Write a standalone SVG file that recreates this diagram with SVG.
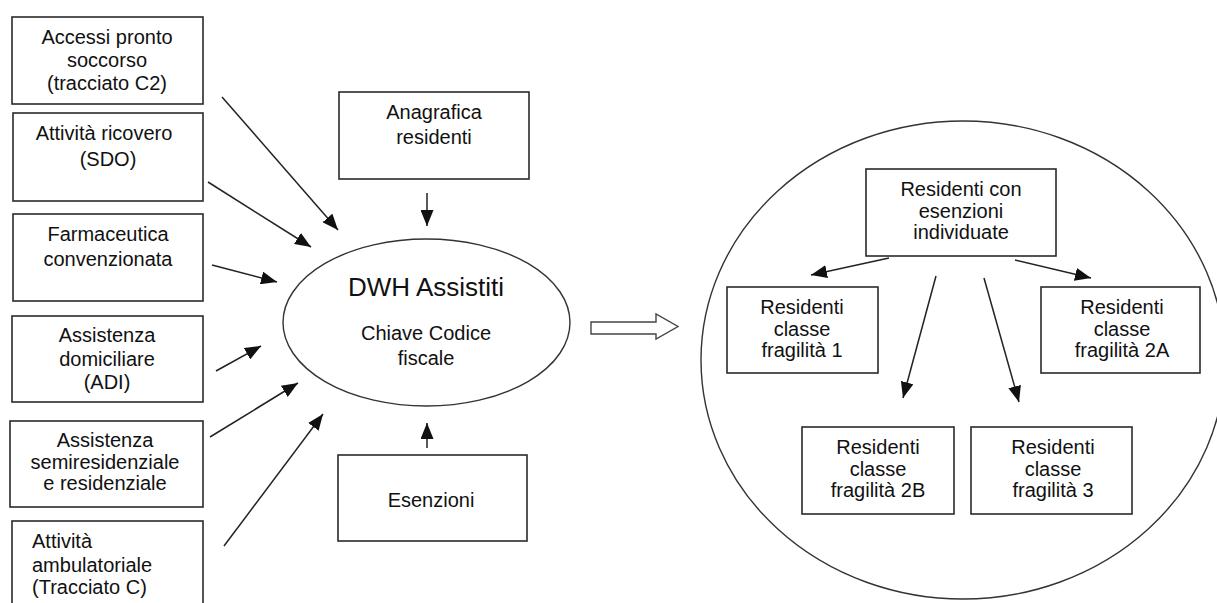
<svg xmlns="http://www.w3.org/2000/svg" width="1217" height="603" viewBox="0 0 1217 603">
<style>
.box{fill:#fff;stroke:#2a2a2a;stroke-width:1.6}
.t{font-family:"Liberation Sans",Arial,sans-serif;font-size:20px;fill:#111;text-anchor:middle}
.tl{text-anchor:start}
.big{font-size:26px}
.ln{stroke:#222;stroke-width:1.5;fill:none;marker-end:url(#ah)}
.ell{fill:#fff;stroke:#333;stroke-width:1.4}
</style>
<defs>
<marker id="ah" markerUnits="userSpaceOnUse" markerWidth="16" markerHeight="13" refX="16" refY="6.5" orient="auto">
<path d="M0,0 L16,6.5 L0,13 z" fill="#111"/>
</marker>
</defs>
<rect width="1217" height="603" fill="#fff"/>

<g id="circle-group">
<ellipse class="ell" cx="963" cy="360" rx="262" ry="239"/>
</g>

<g id="n-accessi">
<rect class="box" x="12" y="17" width="191" height="87"/>
<text class="t" x="107" y="44">Accessi pronto</text>
<text class="t" x="107" y="67">soccorso</text>
<text class="t" x="107" y="90">(tracciato C2)</text>
</g>
<g id="n-ricovero">
<rect class="box" x="13" y="113" width="190" height="88"/>
<text class="t" x="104" y="140">Attività ricovero</text>
<text class="t" x="108" y="166">(SDO)</text>
</g>
<g id="n-farma">
<rect class="box" x="13" y="214" width="190" height="87"/>
<text class="t" x="108" y="241">Farmaceutica</text>
<text class="t" x="108" y="266">convenzionata</text>
</g>
<g id="n-adi">
<rect class="box" x="12" y="316" width="191" height="86"/>
<text class="t" x="107" y="342">Assistenza</text>
<text class="t" x="107" y="366">domiciliare</text>
<text class="t" x="107" y="389">(ADI)</text>
</g>
<g id="n-semi">
<rect class="box" x="10" y="421" width="193" height="86"/>
<text class="t" x="105" y="447">Assistenza</text>
<text class="t" x="105" y="469">semiresidenziale</text>
<text class="t" x="105" y="490">e residenziale</text>
</g>
<g id="n-ambul">
<rect class="box" x="12" y="521" width="191" height="90"/>
<text class="t tl" x="32" y="548">Attività</text>
<text class="t tl" x="32" y="572">ambulatoriale</text>
<text class="t tl" x="32" y="594">(Tracciato C)</text>
</g>
<g id="n-anagrafica">
<rect class="box" x="339" y="92" width="190" height="87"/>
<text class="t" x="434" y="119">Anagrafica</text>
<text class="t" x="434" y="144">residenti</text>
</g>
<g id="n-esenzioni">
<rect class="box" x="338" y="455" width="189" height="86"/>
<text class="t" x="431" y="507">Esenzioni</text>
</g>
<g id="n-dwh">
<ellipse class="ell" cx="426.5" cy="322.5" rx="143.5" ry="83.5"/>
<text class="t big" x="426" y="296">DWH Assistiti</text>
<text class="t" x="426" y="340">Chiave Codice</text>
<text class="t" x="426" y="365">fiscale</text>
</g>
<g id="n-block-arrow">
<polygon points="591,322 656,322 656,314 678,326.5 656,339 656,334 591,334" fill="#fff" stroke="#444" stroke-width="1.4"/>
</g>
<g id="n-res-esenzioni">
<rect class="box" x="866" y="169" width="190" height="87"/>
<text class="t" x="961" y="196">Residenti con</text>
<text class="t" x="961" y="218">esenzioni</text>
<text class="t" x="961" y="239">individuate</text>
</g>
<g id="n-frag1">
<rect class="box" x="727" y="287" width="151" height="86"/>
<text class="t" x="802" y="314">Residenti</text>
<text class="t" x="802" y="336">classe</text>
<text class="t" x="802" y="357">fragilità 1</text>
</g>
<g id="n-frag2a">
<rect class="box" x="1041" y="287" width="159" height="86"/>
<text class="t" x="1122" y="314">Residenti</text>
<text class="t" x="1122" y="336">classe</text>
<text class="t" x="1122" y="357">fragilità 2A</text>
</g>
<g id="n-frag2b">
<rect class="box" x="802" y="427" width="152" height="87"/>
<text class="t" x="878" y="454">Residenti</text>
<text class="t" x="878" y="476">classe</text>
<text class="t" x="878" y="497">fragilità 2B</text>
</g>
<g id="n-frag3">
<rect class="box" x="971" y="427" width="161" height="87"/>
<text class="t" x="1053" y="454">Residenti</text>
<text class="t" x="1053" y="476">classe</text>
<text class="t" x="1053" y="497">fragilità 3</text>
</g>

<g id="connectors">
<line class="ln" x1="222" y1="97" x2="338" y2="230"/>
<line class="ln" x1="208" y1="182" x2="311" y2="247"/>
<line class="ln" x1="212" y1="265" x2="277" y2="282"/>
<line class="ln" x1="216" y1="371" x2="261" y2="346"/>
<line class="ln" x1="210" y1="437" x2="298" y2="383"/>
<line class="ln" x1="224" y1="546" x2="323" y2="414"/>
<line class="ln" x1="427" y1="193" x2="427" y2="226"/>
<line class="ln" x1="427" y1="448" x2="427" y2="423"/>
<line class="ln" x1="889" y1="258" x2="811" y2="275"/>
<line class="ln" x1="1015" y1="260" x2="1091" y2="278"/>
<line class="ln" x1="936" y1="276" x2="903" y2="398"/>
<line class="ln" x1="984" y1="278" x2="1019" y2="402"/>
</g>
</svg>
